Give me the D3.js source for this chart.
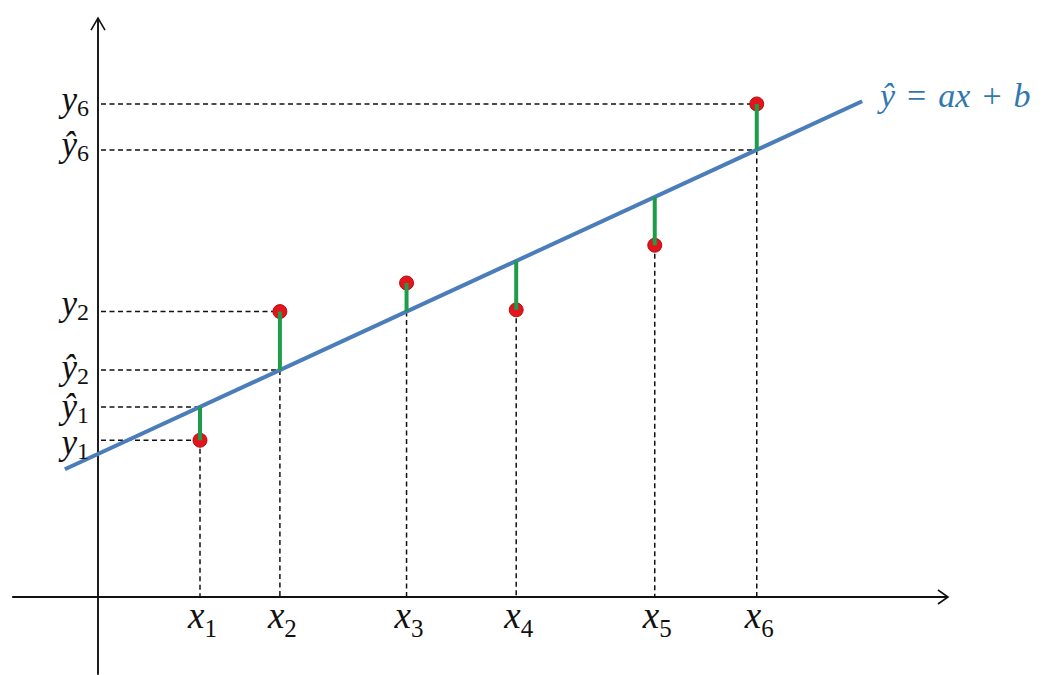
<!DOCTYPE html>
<html>
<head>
<meta charset="utf-8">
<script src="https://cdn.jsdelivr.net/npm/d3@7"></script>
<style>
  html, body { margin: 0; padding: 0; background: #fff; }
  svg { display: block; }
</style>
</head>
<body>
<svg id="chart" width="1046" height="675"></svg>
<script>
// Observations (x_i, y_i) and the fitted line ŷ = a·x + b
const subscripts = ["1", "2", "3", "4", "5", "6"];
const xValues = [12.0, 21.4, 36.3, 49.2, 65.5, 77.5];
const yValues = [27.4, 49.9, 54.9, 50.2, 61.5, 86.2];
const slopeA = 0.686;
const interceptB = 25.0;
// Which observations get y / ŷ guide labels on the vertical axis
const labelledIdx = [0, 1, 5];
const equationParts = ["ŷ", "=", "ax", "+", "b"];

const svg = d3.select("#chart");

const x = d3.scaleLinear().domain([0, 100]).range([98, 948]);
const y = d3.scaleLinear().domain([0, 100]).range([597, 25]);

const fit = v => slopeA * v + interceptB;
const pts = xValues.map((xv, i) => ({ i, x: xv, y: yValues[i], yhat: fit(xv) }));

const mathFont = "'Liberation Serif', 'DejaVu Serif', serif";
const dash = "5,3.5";

// ---- guide lines (dashed) ----
const guides = svg.append("g").attr("stroke", "#111").attr("stroke-width", 1.5)
  .attr("stroke-dasharray", dash).attr("fill", "none");

// vertical drops to the x axis
guides.selectAll("line.v").data(pts).join("line")
  .attr("class", "v")
  .attr("x1", d => x(d.x)).attr("x2", d => x(d.x))
  .attr("y1", d => Math.max(y(d.y), y(d.yhat)))
  .attr("y2", y(0));

// horizontal guides to the y axis for y_i and ŷ_i
const hData = [];
labelledIdx.forEach(i => {
  hData.push({ i, v: pts[i].y, hat: false });
  hData.push({ i, v: pts[i].yhat, hat: true });
});
guides.selectAll("line.h").data(hData).join("line")
  .attr("class", "h")
  .attr("x1", x(0) + 3).attr("x2", d => x(pts[d.i].x))
  .attr("y1", d => y(d.v)).attr("y2", d => y(d.v));

// ---- axes with open arrow heads ----
const axes = svg.append("g").attr("stroke", "#111").attr("stroke-width", 1.9).attr("fill", "none");
axes.append("line").attr("x1", x(-10.1)).attr("x2", x(100)).attr("y1", y(0)).attr("y2", y(0));
axes.append("line").attr("x1", x(0)).attr("x2", x(0)).attr("y1", y(-13.6)).attr("y2", y(101.2));
axes.append("path").attr("stroke-width", 1.6)
  .attr("d", `M${x(100) - 10},${y(0) - 7}L${x(100)},${y(0)}L${x(100) - 10},${y(0) + 7}`);
axes.append("path").attr("stroke-width", 1.6)
  .attr("d", `M${x(0) - 7},${y(101.2) + 12}L${x(0)},${y(101.2)}L${x(0) + 7},${y(101.2) + 12}`);

// ---- regression line ----
const lineX = [-3.9, 89.9];
svg.append("path")
  .datum(lineX)
  .attr("fill", "none")
  .attr("stroke", "#4a7dba")
  .attr("stroke-width", 4)
  .attr("d", d3.line().x(d => x(d)).y(d => y(fit(d))));

// ---- observations ----
svg.append("g").selectAll("circle").data(pts).join("circle")
  .attr("cx", d => x(d.x)).attr("cy", d => y(d.y)).attr("r", 7)
  .attr("fill", "#e2151c").attr("stroke", "#b01216").attr("stroke-width", 1);

// residual stems
svg.append("g").selectAll("line").data(pts).join("line")
  .attr("x1", d => x(d.x)).attr("x2", d => x(d.x))
  .attr("y1", d => y(d.yhat)).attr("y2", d => y(d.y))
  .attr("stroke", "#1e9c4c").attr("stroke-width", 4);

// ---- math labels ----
function mathLabel(g, letter, sub, px, py, anchor, subDy, size) {
  const t = g.append("text")
    .attr("x", px).attr("y", py)
    .attr("text-anchor", anchor)
    .attr("fill", "#111")
    .attr("font-family", mathFont);
  t.append("tspan").attr("font-style", "italic").attr("font-size", size).text(letter);
  t.append("tspan").attr("font-size", Math.round(size * 0.68)).attr("dy", subDy).text(sub);
  return t;
}

const labels = svg.append("g");
// x-axis labels
pts.forEach(d => mathLabel(labels, "x", subscripts[d.i], x(d.x) - 12, 628, "start", 9, 37));

// y-axis labels (baseline offsets keep close labels apart)
const yOffsets = { 0: [14, 11], 1: [3, 9], 5: [7, 6] };
labelledIdx.forEach(i => {
  const p = pts[i];
  mathLabel(labels, "y", subscripts[i], 89, y(p.y) + yOffsets[i][0], "end", 5, 35);
  mathLabel(labels, "ŷ", subscripts[i], 89, y(p.yhat) + yOffsets[i][1], "end", 5, 35);
});

// equation next to the line end: italic symbols, upright operators
const eq = svg.append("text")
  .attr("x", 880).attr("y", y(fit(lineX[1])) + 6)
  .attr("fill", "#2f78b0")
  .attr("font-family", mathFont)
  .attr("font-size", 34);
equationParts.forEach((s, k) => {
  eq.append("tspan")
    .attr("dx", k === 0 ? 0 : 12)
    .attr("font-style", (s === "=" || s === "+") ? "normal" : "italic")
    .text(s);
});
</script>
</body>
</html>
